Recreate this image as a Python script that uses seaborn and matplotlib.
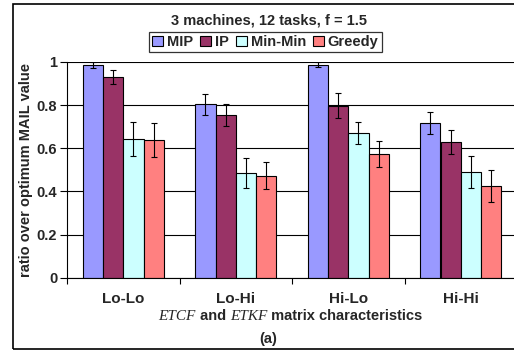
import matplotlib
matplotlib.use("Agg")
import matplotlib.pyplot as plt
from matplotlib.patches import Rectangle
from matplotlib.offsetbox import TextArea, HPacker, AnchoredOffsetbox
import seaborn as sns
import pandas as pd

# data
groups = ["Lo-Lo", "Lo-Hi", "Hi-Lo", "Hi-Hi"]
methods = ["MIP", "IP", "Min-Min", "Greedy"]
mip = [0.986, 0.803, 0.988, 0.716]
ip = [0.931, 0.754, 0.798, 0.628]
minmin = [0.645, 0.486, 0.673, 0.490]
greedy = [0.637, 0.473, 0.573, 0.425]
mip_err = [0.013, 0.047, 0.012, 0.052]
ip_err = [0.032, 0.051, 0.056, 0.055]
minmin_err = [0.079, 0.070, 0.051, 0.073]
greedy_err = [0.079, 0.064, 0.062, 0.072]
colors = ["#9999FF", "#993366", "#CCFFFF", "#FF8080"]

values = [mip, ip, minmin, greedy]
errors = [mip_err, ip_err, minmin_err, greedy_err]
df = pd.DataFrame({
    "group": [g for m in methods for g in groups],
    "method": [m for m in methods for g in groups],
    "value": [v for vals in values for v in vals],
})

sns.set_theme(style="ticks")
plt.rcParams["font.family"] = ["Liberation Sans", "DejaVu Sans"]

fig = plt.figure(figsize=(5.14, 3.51), dpi=100)
ax = fig.add_axes([67 / 514, 0.2088, 450 / 514, 0.6146])

sns.barplot(data=df, x="group", y="value", hue="method", order=groups,
            hue_order=methods, palette=colors, saturation=1, edgecolor="black",
            linewidth=0.8, errorbar=None, width=0.72, ax=ax)

for cont, errs in zip(ax.containers, errors):
    xs = [b.get_x() + b.get_width() / 2 for b in cont]
    ys = [b.get_height() for b in cont]
    ax.errorbar(xs, ys, yerr=errs, fmt="none", ecolor="black",
                elinewidth=0.8, capsize=2.2, capthick=0.8, zorder=5)

handles, labels = ax.get_legend_handles_labels()
ax.get_legend().remove()
leg = fig.legend(handles, labels, loc="center", bbox_to_anchor=(0.5165, 0.880),
                 ncol=4, frameon=True, fancybox=False, edgecolor="black",
                 handlelength=0.75, handleheight=0.75, handletextpad=0.25,
                 columnspacing=0.5, borderpad=0.2, borderaxespad=0,
                 prop={"weight": "bold", "size": 10.5})
leg.get_frame().set_linewidth(0.9)

ax.set_ylim(0, 1)
ax.set_xlim(-0.5, 3.5)
ax.set_yticks([0, 0.2, 0.4, 0.6, 0.8, 1.0])
ax.set_yticklabels(["0", "0.2", "0.4", "0.6", "0.8", "1"], fontweight="bold", fontsize=10.5)
ax.set_xticks(range(len(groups)))
ax.set_xticklabels(groups, fontweight="bold", fontsize=11)
ax.set_xticks([-0.5, 0.5, 1.5, 2.5, 3.5], minor=True)
ax.tick_params(axis="x", which="major", length=0, pad=10)
ax.tick_params(axis="x", which="minor", length=4, width=0.8, direction="out", color="black")
ax.tick_params(axis="y", length=5, width=0.8, pad=2, color="black")
ax.yaxis.grid(True, color="black", linewidth=0.8)
ax.set_axisbelow(True)
for s in ["top", "right"]:
    ax.spines[s].set_visible(False)
for s in ["left", "bottom"]:
    ax.spines[s].set_color("black")
    ax.spines[s].set_linewidth(0.8)
ax.set_xlabel("")
ax.set_ylabel("ratio over optimum MAIL value", fontweight="bold", fontsize=10.5)
ax.yaxis.set_label_coords(-0.076, 0.5)

fig.text(0.524, 0.943, "3 machines, 12 tasks, f = 1.5", ha="center", va="center",
         fontweight="bold", fontsize=10.5)

# x axis title with mixed fonts
ital = {"family": "Liberation Serif", "style": "italic", "size": 11}
bold = {"weight": "bold", "size": 10.5}
pieces = [TextArea("ETCF", textprops=ital), TextArea(" and ", textprops=bold),
          TextArea("ETKF", textprops=ital), TextArea(" matrix characteristics", textprops=bold)]
box = HPacker(children=pieces, align="baseline", pad=0, sep=0)
anch = AnchoredOffsetbox(loc="center", child=box, pad=0, borderpad=0, frameon=False,
                         bbox_to_anchor=(0.565, 0.100), bbox_transform=fig.transFigure)
fig.add_artist(anch)

fig.text(0.521, 0.034, "(a)", ha="center", va="center", fontweight="bold", fontsize=10.5)

fig.add_artist(Rectangle((13 / 514, 2 / 351), 1.0, 0.983, transform=fig.transFigure,
                         fill=False, edgecolor="black", linewidth=1.2))

fig.savefig("out.png", dpi=100)
